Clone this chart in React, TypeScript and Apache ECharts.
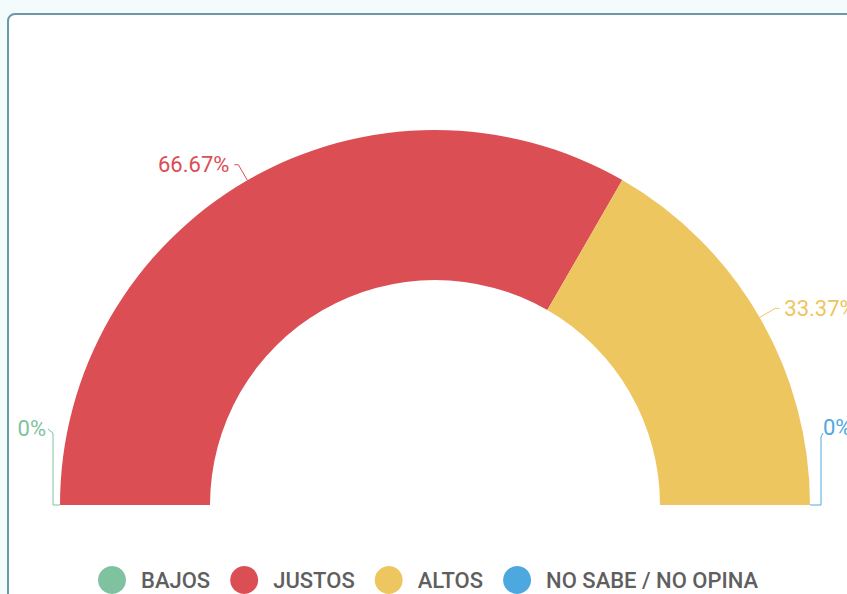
import React, { useEffect, useRef } from "react";
import * as echarts from "echarts";

const categories = ["BAJOS", "JUSTOS", "ALTOS", "NO SABE / NO OPINA"];
const values = [0, 66.67, 33.37, 0];
const colors = ["#7fc2a0", "#da4e54", "#edc660", "#4ea8e0"];

export default function App() {
  const ref = useRef<HTMLDivElement>(null);
  useEffect(() => {
    const chart = echarts.init(ref.current!, null, { renderer: "svg" });
    chart.setOption({
      animation: false,
      color: colors,
      legend: {
        top: 546,
        left: 84,
        icon: "circle",
        itemWidth: 28,
        itemHeight: 28,
        itemGap: 20,
        textStyle: { fontSize: 22, color: "#5f5f5f", fontFamily: "Roboto", fontWeight: 500, padding: [0, 0, 0, 10] },
      },
      series: [
        {
          type: "pie",
          center: [426, 490],
          radius: [225, 375],
          startAngle: 180,
          endAngle: 0,
          clockwise: true,
          minAngle: 0,
          stillShowZeroSum: true,
          avoidLabelOverlap: false,
          label: { formatter: "{c}%", fontSize: 22, fontFamily: "Roboto", color: "inherit" },
          labelLine: { length: 18, length2: 4, lineStyle: { width: 1 } },
          labelLayout: (params: any) => {
            const pts = params.labelLinePoints;
            if (!pts || values[params.dataIndex] !== 0) return {};
            const p0 = pts[0];
            if (params.dataIndex === 0) {
              return {
                x: p0[0] - 14,
                y: p0[1] - 77,
                align: "right",
                verticalAlign: "middle",
                labelLinePoints: [p0, [p0[0] - 7, p0[1]], [p0[0] - 7, p0[1] - 72], [p0[0] - 12, p0[1] - 76]],
              };
            }
            return {
              x: p0[0] + 13,
              y: p0[1] - 78,
              align: "left",
              verticalAlign: "middle",
              labelLinePoints: [p0, [p0[0] + 11, p0[1]], [p0[0] + 11, p0[1] - 68], [p0[0] + 13, p0[1] - 72]],
            };
          },
          emphasis: { disabled: true },
          data: categories.map((n, i) => ({ name: n, value: values[i] })),
        },
      ],
    });
    return () => chart.dispose();
  }, []);
  return (
    <div style={{ position: "fixed", left: 0, top: 0, width: 847, height: 594, overflow: "hidden", background: "#f3fbfd" }}>
      <div style={{ position: "absolute", left: 7, top: 13, width: 866, height: 616, border: "2px solid #6b98a9", borderRadius: 8, background: "#ffffff" }}>
        <div ref={ref} style={{ width: 866, height: 616 }} />
      </div>
    </div>
  );
}
